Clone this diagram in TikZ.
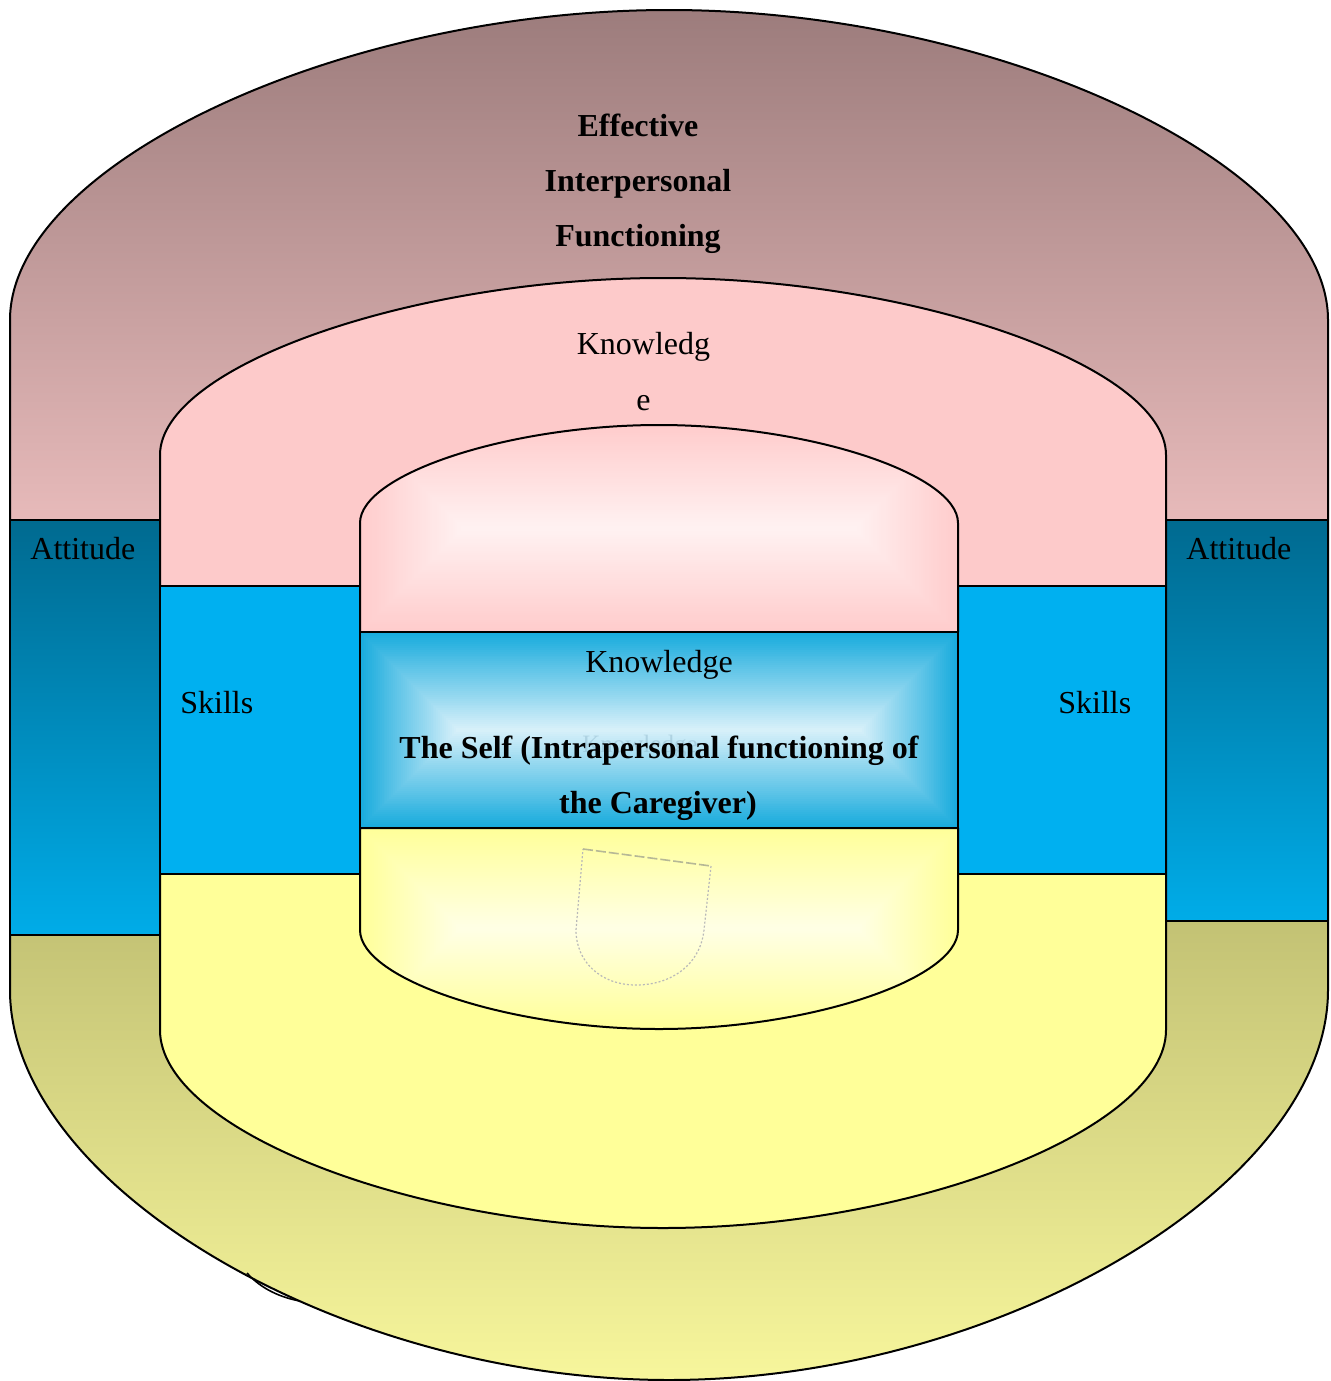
\documentclass[tikz,border=0pt]{standalone}
\usepackage{fontspec}
\setmainfont{Liberation Serif}

% palette
\definecolor{outerTop}{RGB}{155,123,123}
\definecolor{outerMid}{RGB}{231,186,186}
\definecolor{oliveTop}{RGB}{195,194,116}
\definecolor{oliveBot}{RGB}{247,246,156}
\definecolor{attTop}{RGB}{0,106,144}
\definecolor{attBot}{RGB}{0,172,232}
\definecolor{knowPink}{RGB}{253,202,202}
\definecolor{skillBlue}{RGB}{0,176,240}
\definecolor{baseYellow}{RGB}{255,255,153}
\definecolor{pinkEdge}{RGB}{255,204,204}
\definecolor{pinkCore}{RGB}{255,242,242}
\definecolor{blueEdge}{RGB}{24,171,221}
\definecolor{blueCore}{RGB}{218,241,250}
\definecolor{yelEdge}{RGB}{255,255,153}
\definecolor{yelCore}{RGB}{255,255,230}
\definecolor{ghostBlue}{RGB}{140,180,200}
\definecolor{ghostLine}{RGB}{185,185,185}
\definecolor{ghostTop}{RGB}{182,184,150}

% outlines of the three nested "can" shapes (pixel-like coordinates, y downwards)
\def\canOuter{(10,320) .. controls (10,165) and (339.5,10) .. (669,10)
  .. controls (998.5,10) and (1328,165) .. (1328,320) -- (1328,990)
  .. controls (1328,1185) and (998.5,1380) .. (669,1380)
  .. controls (339.5,1380) and (10,1185) .. (10,990) -- cycle}
\def\canMiddle{(160,455) .. controls (160,366.5) and (411.5,278) .. (663,278)
  .. controls (914.5,278) and (1166,366.5) .. (1166,455) -- (1166,1030)
  .. controls (1166,1129) and (914.5,1228) .. (663,1228)
  .. controls (411.5,1228) and (160,1129) .. (160,1030) -- cycle}
\def\innerTop{(360,632) -- (360,523) .. controls (360,474) and (509.5,425) .. (659,425)
  .. controls (808.5,425) and (958,474) .. (958,523) -- (958,632) -- cycle}
\def\innerBottom{(360,828) -- (958,828) -- (958,930)
  .. controls (958,979.5) and (808.5,1029) .. (659,1029)
  .. controls (509.5,1029) and (360,979.5) .. (360,930) -- cycle}

% concentric-rectangle glow: x1,y1,x2,y2, edge colour, centre colour
\newcommand\glowbox[6]{%
  \foreach \i in {0,...,50}{%
    \pgfmathsetmacro\ins{\i*min(#3-#1,#4-#2)/100}%
    \pgfmathtruncatemacro\pc{100-2*\i}%
    \fill[#5!\pc!#6] ({#1+\ins},{#2+\ins}) rectangle ({#3-\ins},{#4-\ins});
  }}

\begin{document}
\begin{tikzpicture}[x=0.5pt,y=-0.5pt,line join=round,
  outline/.style={draw=black,line width=1pt},
  lbl/.style={font=\fontsize{16}{19}\selectfont,inner sep=0pt},
  boldlbl/.style={inner sep=0pt,font=\fontsize{16}{19}\selectfont\bfseries}]
\useasboundingbox (0,0) rectangle (1331,1381);

% outer layer: interpersonal functioning
\begin{scope}
  \clip \canOuter;
  \shade[top color=outerTop,bottom color=outerMid] (0,0) rectangle (1331,521);
  \shade[top color=oliveTop,bottom color=oliveBot] (0,920) rectangle (1331,1381);
\end{scope}
\draw[outline] \canOuter;
\draw[line width=0.8pt] (247,1273) .. controls (262,1290) and (283,1298) .. (300,1301);

% attitude bands
\shade[top color=attTop,bottom color=attBot] (10,520) rectangle (160,935);
\draw[outline,line width=1.2pt] (10,520) rectangle (160,935);
\shade[top color=attTop,bottom color=attBot] (1166,520) rectangle (1328,921);
\draw[outline,line width=1.2pt] (1166,520) rectangle (1328,921);

% middle layer: knowledge above, base below
\begin{scope}
  \clip \canMiddle;
  \fill[knowPink] (150,270) rectangle (1180,730);
  \fill[baseYellow] (150,730) rectangle (1180,1240);
\end{scope}
\draw[outline] \canMiddle;

% skills bands
\fill[skillBlue] (160,586) rectangle (360,874);
\draw[outline,line width=1.2pt] (160,586) rectangle (360,874);
\fill[skillBlue] (958,586) rectangle (1166,874);
\draw[outline,line width=1.2pt] (958,586) rectangle (1166,874);

% inner layer: the self
\begin{scope}
  \clip \innerTop;
  \glowbox{360}{425}{958}{632}{pinkEdge}{pinkCore}
\end{scope}
\draw[outline] \innerTop;
\glowbox{360}{632}{958}{828}{blueEdge}{blueCore}
\draw[outline,line width=1.2pt] (360,632) rectangle (958,828);
\begin{scope}
  \clip \innerBottom;
  \glowbox{360}{828}{958}{1029}{yelEdge}{yelCore}
\end{scope}
\draw[outline] \innerBottom;

% faint placeholder outline in the base
\draw[ghostLine,line width=0.6pt,dash pattern=on 1pt off 1pt]
  (711,866) -- (704,930) .. controls (700,966) and (670,985) .. (636,985)
  .. controls (601,985) and (576,962) .. (576,930) -- (583,849);
\draw[ghostTop,line width=0.8pt,dash pattern=on 5pt off 1.5pt] (583,849) -- (711,866);

% labels
\node[boldlbl,anchor=base] (eff1) at (638,136) {Effective};
\node[boldlbl,anchor=base] (eff2) at (638,191) {Interpersonal};
\node[boldlbl,anchor=base] (eff3) at (638,246) {Functioning};
\node[lbl,anchor=base] (know1) at (643.5,354) {Knowledg};
\node[lbl,anchor=base] (know2) at (643.5,410) {e};
\node[lbl,anchor=base west] (attL) at (30,559) {Attitude};
\node[lbl,anchor=base west] (attR) at (1186,559) {Attitude};
\node[lbl,anchor=base west] (skL) at (180,713) {Skills};
\node[lbl,anchor=base west] (skR) at (1058,713) {Skills};
\node[lbl,anchor=base] (know3) at (659,672) {Knowledge};
\node[inner sep=0pt,font=\fontsize{12.5}{15}\selectfont,anchor=base,
      text=ghostBlue,text opacity=0.45] (know4) at (640,752) {Knowledge};
\node[boldlbl,anchor=base] (self1) at (659,758) {The Self (Intrapersonal functioning of};
\node[boldlbl,anchor=base] (self2) at (658,813) {the Caregiver)};
\end{tikzpicture}
\end{document}
